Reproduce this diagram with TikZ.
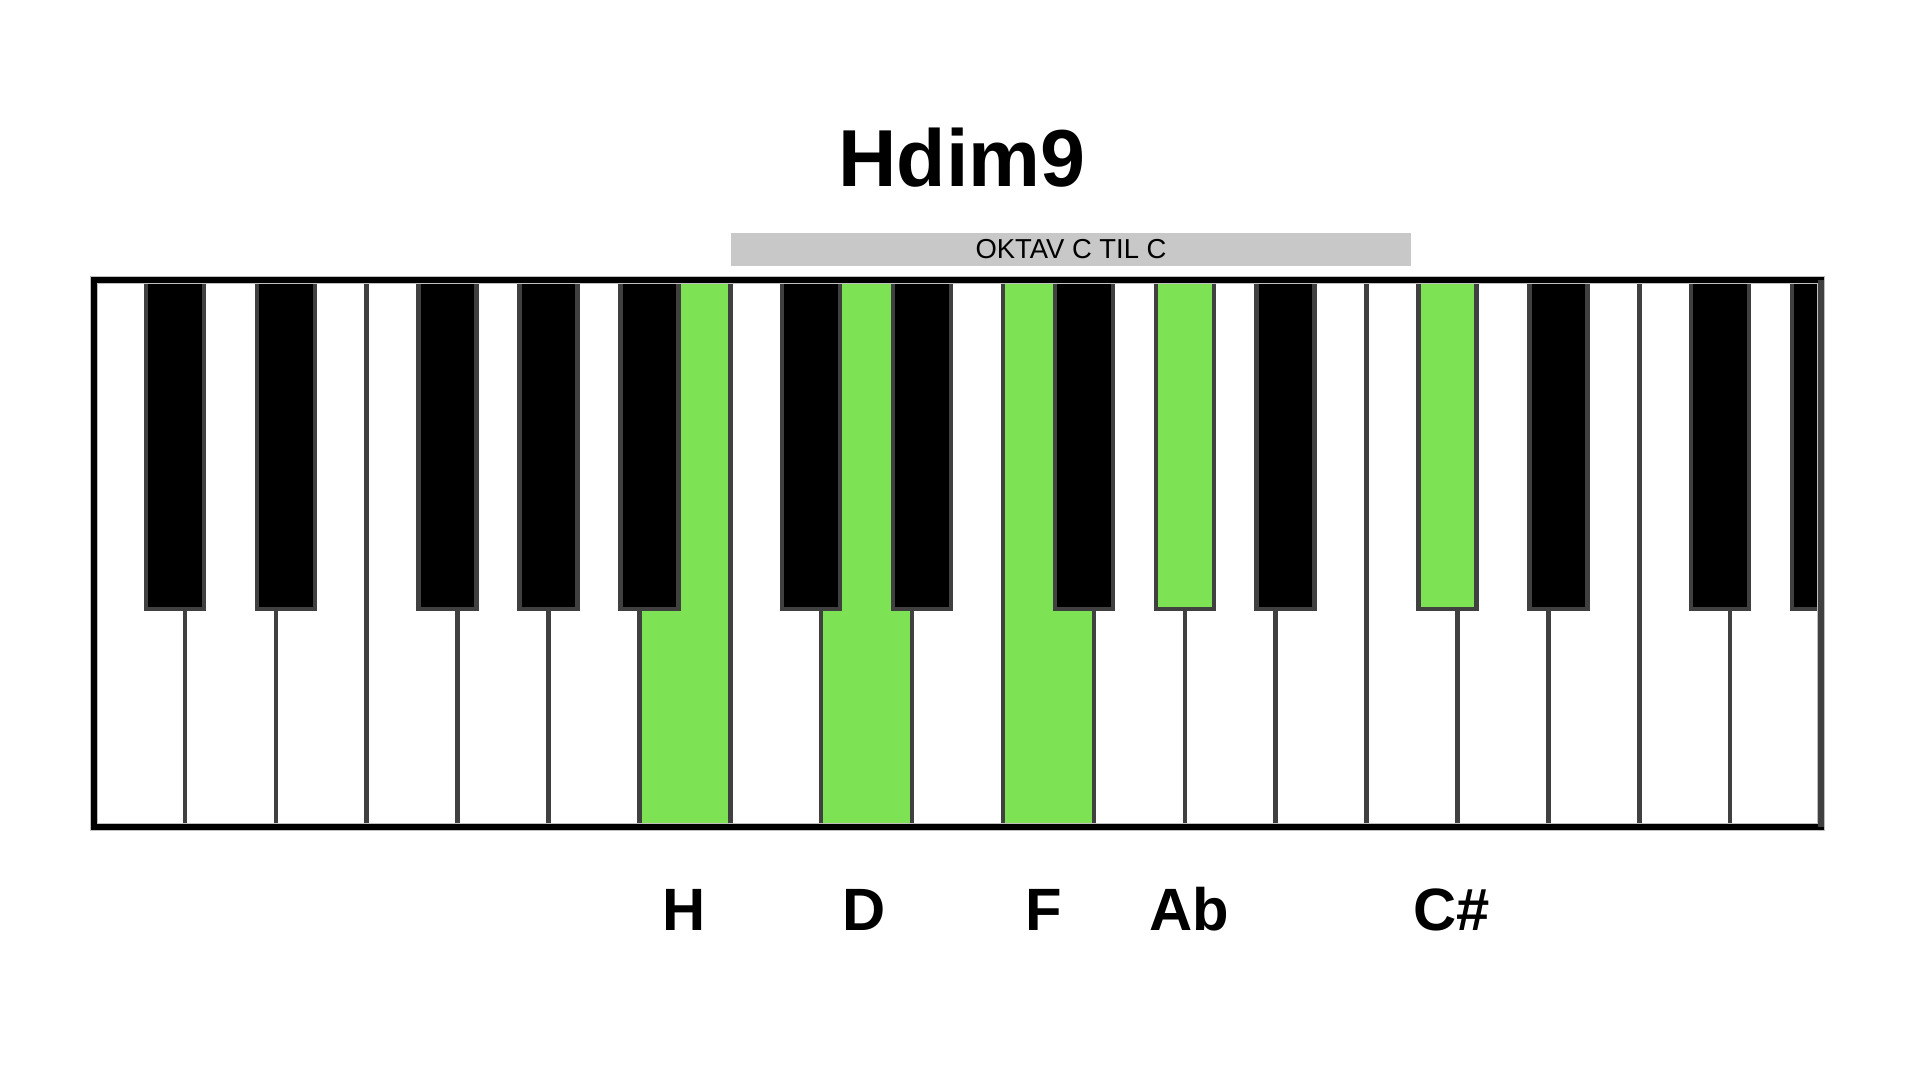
\documentclass[tikz,border=0pt]{standalone}
\usepackage{fontspec}
\setmainfont{Liberation Sans}
\usetikzlibrary{positioning}
\definecolor{keygreen}{RGB}{126,227,84}
\definecolor{keyline}{RGB}{64,64,64}
\definecolor{bargray}{RGB}{200,200,200}

\begin{document}
\begin{tikzpicture}[x=0.1mm,y=-0.1mm]

\tikzset{wkey/.style = {rectangle,draw=keyline,line width=0.45mm,fill=white,minimum width=9.09mm,minimum height=54.7mm,inner sep=0pt,outer sep=0pt}}
\tikzset{bkey/.style = {rectangle,draw=keyline,line width=0.45mm,fill=black,minimum width=5.8mm,minimum height=32.9mm,inner sep=0pt,outer sep=0pt}}
\tikzset{frame/.style = {draw=black,line width=0.55mm}}
\tikzset{notename/.style = {anchor=base,font=\bfseries\fontsize{17}{20}\selectfont}}

\useasboundingbox (0,0) rectangle (1920,1080);

%title
\node[anchor=base, font=\bfseries\fontsize{23}{27}\selectfont] (title) at (962,186) {Hdim9};
\node[fill=bargray, minimum width=68mm, minimum height=3.3mm, inner sep=0pt, font=\fontsize{7.8}{9}\selectfont] (oktav) at (1071,249.5) {OKTAV C TIL C};

%white keys
\node[wkey] (w1) at (139.45,553.5) {};
\node[wkey] (w2) at (230.35,553.5) {};
\node[wkey] (w3) at (321.25,553.5) {};
\node[wkey] (w4) at (412.15,553.5) {};
\node[wkey] (w5) at (503.05,553.5) {};
\node[wkey] (w6) at (593.95,553.5) {};
\node[wkey, fill=keygreen] (w7) at (684.85,553.5) {};
\node[wkey] (w8) at (775.75,553.5) {};
\node[wkey, fill=keygreen] (w9) at (866.65,553.5) {};
\node[wkey] (w10) at (957.55,553.5) {};
\node[wkey, fill=keygreen] (w11) at (1048.45,553.5) {};
\node[wkey] (w12) at (1139.35,553.5) {};
\node[wkey] (w13) at (1230.25,553.5) {};
\node[wkey] (w14) at (1321.15,553.5) {};
\node[wkey] (w15) at (1412.05,553.5) {};
\node[wkey] (w16) at (1502.95,553.5) {};
\node[wkey] (w17) at (1593.85,553.5) {};
\node[wkey] (w18) at (1684.75,553.5) {};
\node[wkey] (w19) at (1775.65,553.5) {};

%black keys
\node[bkey] (b1) at (174.9,444.5) {};
\node[bkey] (b2) at (285.8,444.5) {};
\node[bkey] (b3) at (447.6,444.5) {};
\node[bkey] (b4) at (548.5,444.5) {};
\node[bkey] (b5) at (649.4,444.5) {};
\node[bkey] (b6) at (811.2,444.5) {};
\node[bkey] (b7) at (922.1,444.5) {};
\node[bkey] (b8) at (1083.9,444.5) {};
\node[bkey, fill=keygreen] (b9) at (1184.8,444.5) {};
\node[bkey] (b10) at (1285.7,444.5) {};
\node[bkey, fill=keygreen] (b11) at (1447.5,444.5) {};
\node[bkey] (b12) at (1558.4,444.5) {};
\node[bkey] (b13) at (1720.2,444.5) {};
\node[bkey, minimum width=2.9mm] (b14) at (1806.5,444.5) {};

%frame
\draw[gray!50, line width=0.75mm] (w1.north west) rectangle (w19.south east);
\draw[frame] (w1.north west) rectangle (w19.south east);
\draw[keyline, line width=0.6mm] (w19.north east) -- (w19.south east);

%note names
\node[notename] (nH) at (684,930) {H};
\node[notename] (nD) at (864.5,930) {D};
\node[notename] (nF) at (1044,930) {F};
\node[notename] (nAb) at (1189,930) {Ab};
\node[notename] (nCs) at (1451.5,930) {C\#};

\end{tikzpicture}
\end{document}
